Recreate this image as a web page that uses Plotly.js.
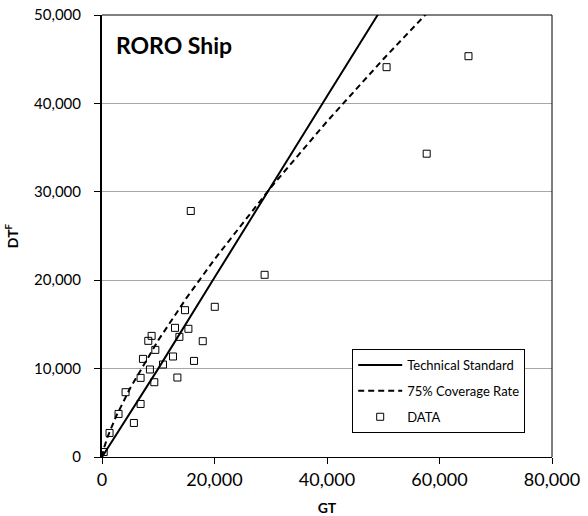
<!DOCTYPE html>
<html>
<head>
<meta charset="utf-8">
<script src="https://cdn.plot.ly/plotly-3.0.1.min.js"></script>
<style>html,body{margin:0;padding:0;background:#fff;}#chart{width:588px;height:516px;}</style>
</head>
<body>
<div id="chart"></div>
<script>
// Observed data points (GT vs DTF)
const dataGT = [300, 1340, 2940, 4190, 5670, 6860, 6860, 7280, 8230, 8820, 8520, 9480, 9300, 10840,
  12620, 12980, 13400, 13760, 14760, 15360, 16360, 17910, 20050, 28910, 15780, 50590, 57720, 65150];
const dataDT = [560, 2720, 4870, 7330, 3850, 6000, 8950, 11100, 13140, 13700, 9900, 12120, 8460, 10460,
  11370, 14610, 8990, 13590, 16610, 14500, 10870, 13100, 16990, 20610, 27830, 44100, 34310, 45340];

// Technical standard line
const stdGT = [0, 10000, 20000, 30000, 40000, 49000, 52000];
const stdDT = [0, 10000, 20300, 30600, 40800, 50000, 53000];

// 75% coverage rate curve
const covGT = [0, 300, 1000, 2500, 5000, 10000, 15000, 20000, 30000, 40000, 50000, 57500, 60000];
const covDT = [0, 910, 2280, 4590, 7780, 13200, 17970, 22360, 30480, 37960, 45000, 50030, 51700];

const xTicks = [0, 20000, 40000, 60000, 80000];
const yTicks = [0, 10000, 20000, 30000, 40000, 50000];

const FONT = 'Lato, "Open Sans", sans-serif';

const traces = [
  {x: stdGT, y: stdDT, mode: 'lines', name: 'Technical Standard', legendgroup: 'a',
   line: {color: '#000', width: 2}, hoverinfo: 'skip'},
  {x: covGT, y: covDT, mode: 'lines', name: '75% Coverage Rate', legendgroup: 'b',
   line: {color: '#000', width: 2, dash: '6px,4px'}, hoverinfo: 'skip'},
  {x: dataGT, y: dataDT, mode: 'markers', name: 'DATA', legendgroup: 'c',
   marker: {symbol: 'square-open', size: 7, color: '#000', line: {width: 1, color: '#000'}}}
];

const layout = {
  width: 588, height: 516,
  margin: {l: 102, r: 36, t: 15, b: 59},
  paper_bgcolor: '#fff', plot_bgcolor: '#fff',
  font: {family: FONT, color: '#000'},
  title: {text: '<b>RORO Ship</b>', font: {family: FONT, size: 23, color: '#000'},
          xref: 'paper', x: 0.031, xanchor: 'left', yref: 'container', y: 0.911, yanchor: 'middle'},
  xaxis: {range: [0, 80000], tickvals: xTicks, tickformat: ',', showgrid: false, zeroline: false,
          showline: true, linecolor: '#000', linewidth: 1.3, ticks: 'outside', ticklen: 6, tickcolor: '#000',
          tickfont: {family: FONT, size: 18}, fixedrange: true,
          title: {text: '<b>GT</b>', font: {family: FONT, size: 14}, standoff: 15}},
  yaxis: {range: [0, 50000], tickvals: yTicks, tickformat: ',', showgrid: true, gridcolor: '#a6a6a6', gridwidth: 1,
          zeroline: false, showline: true, linecolor: '#000', linewidth: 2, ticks: 'outside', ticklen: 6,
          tickcolor: '#000', tickfont: {family: FONT, size: 15}, ticklabelstandoff: 10, fixedrange: true,
          title: {text: '<b>DT<sup>F</sup></b>', font: {family: FONT, size: 14}, standoff: 12}},
  shapes: [
    {type: 'line', xref: 'paper', yref: 'paper', x0: 0, x1: 1, y0: 1, y1: 1, line: {color: '#000', width: 1}},
    {type: 'line', xref: 'paper', yref: 'paper', x0: 1, x1: 1, y0: 0, y1: 1, line: {color: '#000', width: 1}}
  ],
  legend: {x: 0.556, y: 0.2443, xanchor: 'left', yanchor: 'top', bgcolor: '#fff',
           bordercolor: '#000', borderwidth: 1, font: {family: FONT, size: 13},
           itemwidth: 44, traceorder: 'grouped', tracegroupgap: 6},
  showlegend: true
};

Plotly.newPlot('chart', traces, layout, {displayModeBar: false, staticPlot: true});
</script>
</body>
</html>
